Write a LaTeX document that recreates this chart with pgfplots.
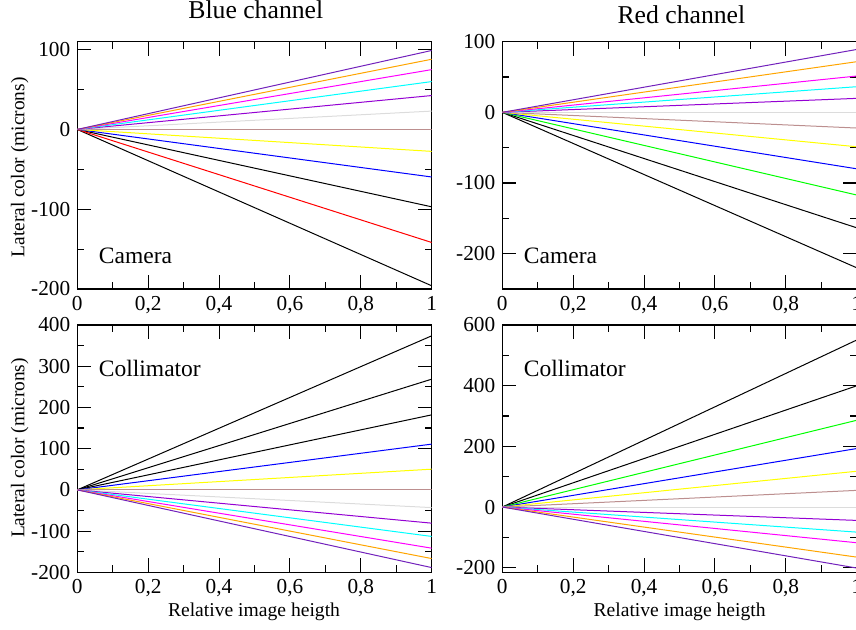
\documentclass[border=0pt]{standalone}
\usepackage{fontspec}
\setmainfont{Liberation Serif}
\usepackage{pgfplots}
\pgfplotsset{compat=1.18}

% xmgrace palette
\definecolor{grred}{RGB}{255,0,0}
\definecolor{grgreen}{RGB}{0,255,0}
\definecolor{grblue}{RGB}{0,0,255}
\definecolor{gryellow}{RGB}{255,255,0}
\definecolor{grbrown}{RGB}{188,143,143}
\definecolor{grgrey}{RGB}{220,220,220}
\definecolor{grviolet}{RGB}{148,0,211}
\definecolor{grcyan}{RGB}{0,255,255}
\definecolor{grmagenta}{RGB}{255,0,255}
\definecolor{grorange}{RGB}{255,165,0}
\definecolor{grindigo}{RGB}{114,33,188}

\pgfplotsset{
  panel/.style={
    scale only axis, width=177.2pt, height=123.65pt,
    anchor=south west,
    xmin=0, xmax=1,
    xtick={0,0.2,0.4,0.6,0.8,1},
    xticklabels={0,{0,2},{0,4},{0,6},{0,8},1},
    minor x tick num=1, minor y tick num=1,
    tick align=inside,
    major tick length=7pt, minor tick length=3.5pt,
    every tick/.style={black, line width=0.55pt},
    axis line style={line width=0.75pt},
    tick label style={font=\fontsize{10.65}{12}\selectfont},
    /pgf/number format/assume math mode=true,
    every axis plot/.append style={line width=0.5pt, no markers},
  },
}

\begin{document}
\begin{tikzpicture}
% Blue channel, camera
\begin{axis}[panel, at={(38.65pt,170.5pt)},
  ymin=-200, ymax=110, ytick={-200,-100,0,100}]
\addplot[black] coordinates {(0,0)(1,-97)};
\addplot[black] coordinates {(0,0)(1,-196)};
\addplot[grred] coordinates {(0,0)(1,-141.7)};
\addplot[grblue] coordinates {(0,0)(1,-59.6)};
\addplot[gryellow] coordinates {(0,0)(1,-27.5)};
\addplot[grbrown] coordinates {(0,0)(1,0)};
\addplot[grgrey] coordinates {(0,0)(1,23)};
\addplot[grviolet] coordinates {(0,0)(1,42.5)};
\addplot[grcyan] coordinates {(0,0)(1,60)};
\addplot[grmagenta] coordinates {(0,0)(1,75)};
\addplot[grorange] coordinates {(0,0)(1,88)};
\addplot[grindigo] coordinates {(0,0)(1,99)};
\node[anchor=west, inner sep=0pt, font=\fontsize{11.75}{14}\selectfont]
  at (rel axis cs:0.06,0.135) {Camera};
\end{axis}
% Red channel, camera
\begin{axis}[panel, at={(251.15pt,170.5pt)},
  ymin=-250, ymax=100, ytick={-200,-100,0,100}]
\addplot[black] coordinates {(0,0)(1,-163.4)};
\addplot[black] coordinates {(0,0)(1,-220)};
\addplot[grgreen] coordinates {(0,0)(1,-117)};
\addplot[grblue] coordinates {(0,0)(1,-79.9)};
\addplot[gryellow] coordinates {(0,0)(1,-48.7)};
\addplot[grbrown] coordinates {(0,0)(1,-22.2)};
\addplot[grgrey] coordinates {(0,0)(1,0)};
\addplot[grviolet] coordinates {(0,0)(1,19.8)};
\addplot[grcyan] coordinates {(0,0)(1,36.3)};
\addplot[grmagenta] coordinates {(0,0)(1,51.4)};
\addplot[grorange] coordinates {(0,0)(1,71.7)};
\addplot[grindigo] coordinates {(0,0)(1,89)};
\node[anchor=west, inner sep=0pt, font=\fontsize{11.75}{14}\selectfont]
  at (rel axis cs:0.06,0.135) {Camera};
\end{axis}
% Blue channel, collimator
\begin{axis}[panel, at={(38.65pt,28.85pt)},
  ymin=-200, ymax=400, ytick={-200,-100,0,100,200,300,400}]
\addplot[black] coordinates {(0,0)(1,373.8)};
\addplot[black] coordinates {(0,0)(1,268.6)};
\addplot[black] coordinates {(0,0)(1,182)};
\addplot[grblue] coordinates {(0,0)(1,111)};
\addplot[gryellow] coordinates {(0,0)(1,50.2)};
\addplot[grbrown] coordinates {(0,0)(1,0)};
\addplot[grgrey] coordinates {(0,0)(1,-43)};
\addplot[grviolet] coordinates {(0,0)(1,-80.8)};
\addplot[grcyan] coordinates {(0,0)(1,-113)};
\addplot[grmagenta] coordinates {(0,0)(1,-141.5)};
\addplot[grorange] coordinates {(0,0)(1,-166.7)};
\addplot[grindigo] coordinates {(0,0)(1,-188.6)};
\node[anchor=west, inner sep=0pt, font=\fontsize{11.75}{14}\selectfont]
  at (rel axis cs:0.06,0.825) {Collimator};
\end{axis}
% Red channel, collimator
\begin{axis}[panel, at={(251.15pt,28.85pt)},
  ymin=-215, ymax=600, ytick={-200,0,200,400,600}]
\addplot[black] coordinates {(0,0)(1,550.5)};
\addplot[black] coordinates {(0,0)(1,399.6)};
\addplot[grgreen] coordinates {(0,0)(1,286)};
\addplot[grblue] coordinates {(0,0)(1,192.8)};
\addplot[gryellow] coordinates {(0,0)(1,118)};
\addplot[grbrown] coordinates {(0,0)(1,55)};
\addplot[grgrey] coordinates {(0,0)(1,0)};
\addplot[grviolet] coordinates {(0,0)(1,-44)};
\addplot[grcyan] coordinates {(0,0)(1,-82.6)};
\addplot[grmagenta] coordinates {(0,0)(1,-117.6)};
\addplot[grorange] coordinates {(0,0)(1,-165)};
\addplot[grindigo] coordinates {(0,0)(1,-201)};
\node[anchor=west, inner sep=0pt, font=\fontsize{11.75}{14}\selectfont]
  at (rel axis cs:0.06,0.825) {Collimator};
\end{axis}
% titles and labels
\node[anchor=base, font=\fontsize{12.85}{15}\selectfont] at (127.9pt,305.5pt) {Blue channel};
\node[anchor=base, font=\fontsize{12.85}{15}\selectfont] at (340.7pt,303.35pt) {Red channel};
\node[anchor=base, rotate=90, font=\fontsize{9.7}{12}\selectfont] at (12.2pt,231.25pt) {Lateral color (microns)};
\node[anchor=base, rotate=90, font=\fontsize{9.7}{12}\selectfont] at (12.2pt,91pt) {Lateral color (microns)};
\node[anchor=base, font=\fontsize{9.8}{12}\selectfont] at (127pt,6.65pt) {Relative image heigth};
\node[anchor=base, font=\fontsize{9.8}{12}\selectfont] at (339.8pt,6.65pt) {Relative image heigth};
\pgfresetboundingbox
\useasboundingbox (0pt,0pt) rectangle (428pt,315pt);
\end{tikzpicture}
\end{document}
